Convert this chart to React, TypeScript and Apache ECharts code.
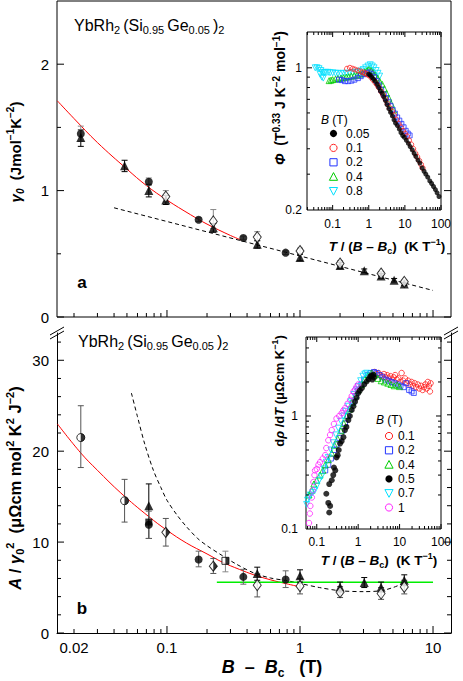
import React, { useEffect, useRef } from 'react';
import * as echarts from 'echarts';

const FONT = '"Liberation Sans", Arial, Helvetica, sans-serif';

// ---------- Panel a : gamma0 vs B - Bc   [x, y, errLow, errHigh]
const gammaTriangles = [
  [0.0225, 1.42, 1.35, 1.48],
  [0.048, 1.197, 1.15, 1.24],
  [0.073, 1.0, 0.95, 1.05],
  [0.098, 0.925, 0.89, 0.96],
  [0.223, 0.706, 0.67, 0.74],
  [0.477, 0.575, 0.545, 0.605],
  [1.0, 0.47, 0.445, 0.495],
  [2.0, 0.408, 0.385, 0.43],
  [3.04, 0.365, 0.35, 0.38],
  [4.07, 0.325, 0.305, 0.345],
  [5.1, 0.291, 0.277, 0.305],
  [6.08, 0.262, 0.25, 0.275],
];
const gammaCircles = [
  [0.0225, 1.45, 1.39, 1.51],
  [0.073, 1.07, 1.04, 1.1],
  [0.173, 0.769, 0.755, 0.785],
  [0.375, 0.625, 0.61, 0.64],
  [0.78, 0.509, 0.495, 0.523],
];
const gammaDiamonds = [
  [0.098, 0.953, 0.91, 1.0],
  [0.223, 0.756, 0.7, 0.85],
  [0.477, 0.632, 0.6, 0.675],
  [1.0, 0.522, 0.5, 0.545],
  [2.0, 0.423, 0.4, 0.445],
  [4.07, 0.344, 0.327, 0.36],
  [6.08, 0.278, 0.265, 0.292],
];
const gammaFit = [
  [0.015, 1.71], [0.02, 1.57], [0.03, 1.38], [0.05, 1.17], [0.07, 1.04],
  [0.1, 0.925], [0.15, 0.81], [0.2, 0.735], [0.3, 0.645], [0.36, 0.61],
];
const gammaDashed = [[0.04, 0.864], [10, 0.21]];

// ---------- Panel b : A / gamma0^2 vs B - Bc   [x, y, errLow, errHigh]
const ratioHalfCircles = [
  [0.0225, 21.5, 18.2, 25.0],
  [0.048, 14.55, 12.2, 16.9],
];
const ratioTriangles = [
  [0.073, 14.0, 10.4, 16.4],
  [0.477, 6.55, 5.8, 7.24],
  [1.0, 6.29, 5.6, 6.95],
  [2.0, 5.05, 4.5, 5.6],
  [3.04, 5.55, 5.0, 6.1],
  [4.07, 5.04, 4.5, 5.6],
  [6.08, 5.8, 5.2, 6.4],
];
const ratioSquares = [[0.073, 12.2, 10.4, 13.6]];
const ratioCircles = [
  [0.073, 11.9, 10.4, 13.4],
  [0.173, 8.09, 7.28, 9.0],
  [0.375, 6.17, 5.37, 7.0],
  [0.78, 5.88, 5.0, 6.84],
];
const ratioHalfDiamonds = [
  [0.098, 11.07, 9.56, 12.6],
  [0.223, 7.35, 6.55, 8.2],
];
const ratioHalfSquares = [[0.275, 7.94, 6.73, 9.0]];
const ratioDiamonds = [
  [0.477, 5.26, 3.97, 6.5],
  [1.0, 5.15, 4.3, 6.0],
  [2.0, 4.49, 3.9, 5.1],
  [4.07, 4.34, 3.7, 5.0],
  [6.08, 5.07, 4.3, 5.8],
];
const ratioFit = [
  [0.015, 23.0], [0.0225, 19.8], [0.03, 17.9], [0.045, 15.4], [0.073, 12.8],
  [0.1, 11.3], [0.14, 9.9], [0.2, 8.7], [0.26, 7.8], [0.35, 7.0],
  [0.45, 6.4], [0.6, 5.85], [0.8, 5.4], [0.95, 5.15],
];
const ratioDashed = [
  [0.054, 26.4], [0.06, 23.8], [0.068, 20.8], [0.079, 17.9], [0.09, 16.0],
  [0.1, 14.6], [0.12, 12.9], [0.14, 11.7], [0.17, 10.4], [0.2, 9.6],
  [0.255, 8.6], [0.33, 7.6], [0.45, 6.6], [0.6, 6.05], [0.8, 5.75],
  [1.0, 5.45], [1.4, 5.0], [2.0, 4.65], [3.0, 4.55], [4.07, 4.65],
  [5.0, 5.0], [6.08, 5.5],
];
const ratioFlat = [[0.237, 5.57], [10, 5.57]];

// ---------- Inset a : Phi vs T/(B-Bc)
const phi005 = [
  [1.0, 0.93], [1.1, 0.92], [1.2, 0.9], [1.35, 0.88], [1.5, 0.86], [1.7, 0.83],
  [1.9, 0.8], [2.1, 0.77], [2.35, 0.75], [2.6, 0.72], [2.9, 0.69], [3.2, 0.66],
  [3.6, 0.63], [4.0, 0.605], [4.5, 0.58], [5.0, 0.555], [5.5, 0.535], [6.2, 0.52],
  [7.0, 0.5], [7.8, 0.48], [8.7, 0.465], [9.7, 0.455], [11, 0.44], [12.5, 0.425],
  [14, 0.41], [16, 0.395], [18, 0.38], [20, 0.367], [23, 0.352], [26, 0.34],
  [30, 0.322], [34, 0.31], [38, 0.3], [43, 0.29], [49, 0.278], [55, 0.27],
  [62, 0.261], [70, 0.252], [78, 0.243], [88, 0.233],
];
const phi01 = [
  [0.25, 0.99], [0.3, 1.0], [0.36, 0.99], [0.42, 0.98], [0.5, 0.97], [0.6, 0.96],
  [0.7, 0.95], [0.8, 0.94], [0.9, 0.93], [1.0, 0.92], [1.15, 0.9], [1.3, 0.875],
  [1.5, 0.85], [1.7, 0.825], [1.9, 0.8], [2.2, 0.765], [2.5, 0.735], [2.9, 0.7],
  [3.3, 0.665], [3.8, 0.635], [4.4, 0.61], [5.0, 0.585], [5.8, 0.555], [6.7, 0.53],
  [7.7, 0.51], [8.8, 0.49], [10, 0.475], [11.5, 0.46], [13, 0.44], [15, 0.42],
  [17, 0.4], [19.5, 0.38], [22, 0.365], [25, 0.35], [28, 0.335], [31, 0.322],
];
const phi02 = [
  [0.15, 0.875], [0.18, 0.87], [0.22, 0.86], [0.27, 0.86], [0.33, 0.865], [0.4, 0.875],
  [0.5, 0.89], [0.6, 0.91], [0.75, 0.93], [0.9, 0.94], [1.05, 0.95], [1.2, 0.93],
  [1.4, 0.9], [1.65, 0.86], [1.9, 0.82], [2.2, 0.78], [2.6, 0.74], [3.0, 0.71],
  [3.5, 0.68], [4.0, 0.65], [4.6, 0.62], [5.3, 0.595], [6.1, 0.57], [7.0, 0.55],
  [8.0, 0.53], [9.2, 0.51], [10.5, 0.49], [12, 0.475], [13.5, 0.465],
];
const phi04 = [
  [0.08, 0.865], [0.09, 0.87], [0.1, 0.875], [0.12, 0.88], [0.14, 0.885], [0.17, 0.89],
  [0.2, 0.895], [0.24, 0.9], [0.28, 0.905], [0.33, 0.91], [0.4, 0.915], [0.48, 0.92],
  [0.57, 0.93], [0.67, 0.94], [0.78, 0.955], [0.9, 0.97], [1.0, 0.98], [1.15, 0.97],
  [1.3, 0.95], [1.5, 0.92], [1.75, 0.89], [2.0, 0.86], [2.35, 0.83], [2.7, 0.79],
  [3.1, 0.75], [3.6, 0.71], [4.2, 0.665], [4.9, 0.62],
];
const phi08 = [
  [0.033, 1.0], [0.037, 1.0], [0.042, 0.99], [0.045, 0.93], [0.047, 0.97], [0.05, 0.9],
  [0.052, 0.95], [0.055, 0.89], [0.058, 0.945], [0.065, 0.95], [0.075, 0.95], [0.085, 0.945],
  [0.1, 0.945], [0.12, 0.94], [0.14, 0.94], [0.17, 0.935], [0.2, 0.94], [0.24, 0.94],
  [0.29, 0.94], [0.35, 0.945], [0.42, 0.95], [0.5, 0.955], [0.6, 0.965], [0.7, 0.98],
  [0.82, 1.0], [0.95, 1.02], [1.1, 1.035], [1.25, 1.02], [1.4, 1.0], [1.6, 0.97],
  [1.8, 0.94], [2.0, 0.91],
];

// ---------- Inset b : d rho / dT vs T/(B-Bc)
const rho01 = [
  [2.5, 2.45], [2.8, 2.35], [3.1, 2.4], [3.4, 2.3], [3.8, 2.25], [4.2, 2.35],
  [4.6, 2.2], [5.0, 2.3], [5.5, 2.15], [6.0, 2.25], [6.6, 2.1], [7.2, 2.2],
  [7.8, 2.3], [8.5, 2.1], [9.3, 2.15], [10.2, 2.0], [11.2, 2.4], [12.3, 2.05],
  [13.5, 2.15], [14.8, 1.95], [16.2, 2.05], [17.7, 1.9], [19.4, 2.0], [21, 1.85],
  [23, 1.95], [25, 1.8], [27.5, 1.9], [30, 1.75], [33, 1.85], [36, 1.7],
  [39, 1.8], [42, 1.9], [45, 1.75], [48, 2.0], [51, 1.85], [54, 1.65], [56, 1.95],
];
const rho02 = [
  [0.16, 0.33], [0.19, 0.37], [0.22, 0.42], [0.26, 0.5], [0.3, 0.56], [0.35, 0.64],
  [0.41, 0.74], [0.48, 0.86], [0.56, 1.0], [0.65, 1.15], [0.76, 1.32], [0.88, 1.5],
  [1.0, 1.68], [1.2, 1.9], [1.4, 2.1], [1.7, 2.3], [2.0, 2.4], [2.4, 2.45],
  [2.8, 2.4], [3.3, 2.3], [3.9, 2.2], [4.6, 2.1], [5.4, 2.05], [6.4, 2.0],
  [7.5, 1.95], [9, 1.9], [10.5, 1.85], [12.5, 1.8], [14.5, 1.95], [17, 1.7],
  [19.5, 1.65], [22, 1.6],
];
const rho04 = [
  [0.065, 0.2], [0.075, 0.22], [0.085, 0.25], [0.1, 0.27], [0.12, 0.3], [0.14, 0.33],
  [0.16, 0.37], [0.19, 0.41], [0.23, 0.47], [0.27, 0.55], [0.32, 0.63], [0.38, 0.74],
  [0.45, 0.86], [0.53, 1.0], [0.62, 1.15], [0.72, 1.32], [0.85, 1.5], [1.0, 1.7],
  [1.2, 1.9], [1.45, 2.12], [1.75, 2.3], [2.1, 2.4], [2.5, 2.3], [3.0, 2.15],
  [3.6, 2.05], [4.3, 2.0], [5.2, 1.95], [6.2, 1.9], [7.4, 1.85], [8.8, 1.88], [10, 1.82],
];
const rho05 = [
  [0.17, 0.205], [0.19, 0.17], [0.2, 0.14], [0.21, 0.16], [0.2, 0.25], [0.23, 0.27],
  [0.25, 0.3], [0.26, 0.35], [0.28, 0.33], [0.3, 0.43], [0.32, 0.45], [0.34, 0.5],
  [0.365, 0.57], [0.4, 0.6], [0.44, 0.65], [0.48, 0.75], [0.52, 0.8], [0.58, 0.92],
  [0.63, 1.0], [0.7, 1.13], [0.77, 1.22], [0.84, 1.34], [0.92, 1.45], [1.0, 1.59],
  [1.1, 1.68], [1.22, 1.76], [1.4, 1.9], [1.6, 2.02], [1.8, 2.12], [1.94, 2.23],
  [2.1, 2.28], [2.33, 2.31], [2.2, 2.1], [2.4, 2.2],
];
const rho07 = [
  [0.057, 0.165], [0.06, 0.18], [0.065, 0.19], [0.07, 0.2], [0.08, 0.21], [0.09, 0.22],
  [0.1, 0.24], [0.115, 0.27], [0.13, 0.29], [0.15, 0.34], [0.17, 0.39], [0.19, 0.43],
  [0.22, 0.5], [0.25, 0.58], [0.29, 0.68], [0.33, 0.78], [0.38, 0.9], [0.44, 1.0],
  [0.5, 1.1], [0.58, 1.22], [0.68, 1.34], [0.8, 1.55], [0.9, 1.7], [1.0, 1.82],
  [1.15, 2.05], [1.3, 2.25], [1.45, 2.35], [1.6, 2.39],
];
const rho1 = [
  [0.065, 0.113], [0.068, 0.137], [0.07, 0.16], [0.076, 0.19], [0.08, 0.22], [0.083, 0.26],
  [0.088, 0.3], [0.091, 0.33], [0.1, 0.34], [0.11, 0.37], [0.12, 0.39], [0.14, 0.42],
  [0.16, 0.45], [0.17, 0.52], [0.19, 0.61], [0.21, 0.68], [0.23, 0.75], [0.26, 0.85],
  [0.3, 0.95], [0.35, 1.0], [0.4, 1.06], [0.44, 1.12], [0.48, 1.17], [0.55, 1.28],
  [0.64, 1.39], [0.7, 1.5], [0.77, 1.64], [0.85, 1.72], [0.92, 1.82], [1.0, 1.9],
];

// ---------- legends (label, marker, colour)
const phiLegend: [string, string, string][] = [
  ['0.05', 'dot', '#000'],
  ['0.1', 'circle', '#ff2020'],
  ['0.2', 'square', '#2233ff'],
  ['0.4', 'up', '#00cc00'],
  ['0.8', 'down', '#00e0ff'],
];
const rhoLegend: [string, string, string][] = [
  ['0.1', 'circle', '#ff2020'],
  ['0.2', 'square', '#2233ff'],
  ['0.4', 'up', '#00cc00'],
  ['0.5', 'dot', '#000'],
  ['0.7', 'down', '#00e0ff'],
  ['1', 'circle', '#ff20ff'],
];

// ---------- tick labels
const mainXLabels: [number, string][] = [[0.02, '0.02'], [0.1, '0.1'], [1, '1'], [10, '10']];
const gammaYLabels: [number, string][] = [[0, '0'], [1, '1'], [2, '2']];
const ratioYLabels: [number, string][] = [[0, '0'], [10, '10'], [20, '20'], [30, '30']];
const insetXLabels: [number, string][] = [[0.1, '0.1'], [1, '1'], [10, '10'], [100, '100']];
const phiYLabels: [number, string][] = [[0.2, '0.2'], [1, '1']];
const rhoYLabels: [number, string][] = [[0.1, '0.1'], [1, '1']];

// axis ranges
const MAIN_X = [0.0149, 13.65];
const PHI_X = [0.0195, 100];
const RHO_X = [0.055, 100];

function logTicks(min: number, max: number, majorLen: number, minorLen: number) {
  const out: number[][] = [];
  for (let e = Math.floor(Math.log10(min)); e <= Math.ceil(Math.log10(max)); e++) {
    for (let m = 1; m <= 9; m++) {
      const v = parseFloat((m * Math.pow(10, e)).toPrecision(6));
      if (v > min * 1.001 && v < max * 0.999) out.push([v, m === 1 ? majorLen : minorLen]);
    }
  }
  return out;
}
function linTicks(values: number[], majors: number[], majorLen: number, minorLen: number) {
  return values.map((v) => [v, majors.indexOf(v) >= 0 ? majorLen : minorLen]);
}

const ln = (x1: number, y1: number, x2: number, y2: number, color = '#000', w = 1, z = 20) => ({
  type: 'line',
  z,
  shape: { x1, y1, x2, y2 },
  style: { stroke: color, lineWidth: w },
});

function tickSeries(xi: number, yi: number, dir: 'x' | 'y', ref: number, items: number[][], sides: string[]) {
  return {
    type: 'custom',
    xAxisIndex: xi,
    yAxisIndex: yi,
    silent: true,
    z: 10,
    data: items.map(([v, l]) => (dir === 'x' ? [v, ref, l] : [ref, v, l])),
    encode: { x: 0, y: 1 },
    renderItem: (params: any, api: any) => {
      const cs = params.coordSys;
      const p = api.coord([api.value(0), api.value(1)]);
      const L = api.value(2);
      const ch: any[] = [];
      sides.forEach((s) => {
        if (s === 'bottom') ch.push(ln(p[0], cs.y + cs.height, p[0], cs.y + cs.height - L));
        if (s === 'top') ch.push(ln(p[0], cs.y, p[0], cs.y + L));
        if (s === 'left') ch.push(ln(cs.x, p[1], cs.x + L, p[1]));
        if (s === 'right') ch.push(ln(cs.x + cs.width, p[1], cs.x + cs.width - L, p[1]));
      });
      return { type: 'group', children: ch };
    },
  };
}

function labelSeries(xi: number, yi: number, dir: 'x' | 'y', ref: number, labels: [number, string][], offset: number, fontSize: number) {
  return {
    type: 'custom',
    xAxisIndex: xi,
    yAxisIndex: yi,
    silent: true,
    z: 10,
    data: labels.map(([v]) => (dir === 'x' ? [v, ref] : [ref, v])),
    encode: { x: 0, y: 1 },
    renderItem: (params: any, api: any) => {
      const cs = params.coordSys;
      const p = api.coord([api.value(0), api.value(1)]);
      const text = labels[params.dataIndex][1];
      const x = dir === 'x' ? p[0] : cs.x - offset;
      const y = dir === 'x' ? cs.y + cs.height + offset : p[1];
      return {
        type: 'text',
        x,
        y,
        style: {
          text,
          fill: '#000',
          fontSize,
          fontFamily: FONT,
          align: dir === 'x' ? 'center' : 'right',
          textAlign: dir === 'x' ? 'center' : 'right',
          verticalAlign: 'middle',
          textVerticalAlign: 'middle',
        },
      };
    },
  };
}

function errorSeries(data: number[][], xi: number, yi: number, color: string) {
  return {
    type: 'custom',
    xAxisIndex: xi,
    yAxisIndex: yi,
    silent: true,
    z: 4,
    data: data.map((d) => [d[0], d[2], d[3]]),
    encode: { x: 0, y: [1, 2] },
    renderItem: (params: any, api: any) => {
      const lo = api.coord([api.value(0), api.value(1)]);
      const hi = api.coord([api.value(0), api.value(2)]);
      const w = 3;
      return {
        type: 'group',
        children: [
          ln(lo[0], lo[1], hi[0], hi[1], color),
          ln(lo[0] - w, lo[1], lo[0] + w, lo[1], color),
          ln(hi[0] - w, hi[1], hi[0] + w, hi[1], color),
        ],
      };
    },
  };
}

function scatter(name: string, data: number[][], xi: number, yi: number, symbol: string, size: any, itemStyle: any, extra: any = {}) {
  return {
    type: 'scatter',
    name,
    xAxisIndex: xi,
    yAxisIndex: yi,
    data: data.map((d) => [d[0], d[1]]),
    symbol,
    symbolSize: size,
    itemStyle,
    silent: true,
    z: 5,
    ...extra,
  };
}

function lineSeries(data: number[][], xi: number, yi: number, color: string, width: number, type: any, smooth: any) {
  return {
    type: 'line',
    xAxisIndex: xi,
    yAxisIndex: yi,
    data,
    showSymbol: false,
    symbol: 'none',
    smooth,
    silent: true,
    z: 3,
    lineStyle: { color, width, type },
  };
}

function rich(F: number, bold: boolean) {
  const H = Math.round(F * 1.3);
  const f = Math.round(F * 0.68);
  const base = { fontFamily: FONT, fontWeight: bold ? 'bold' : 'normal', fill: '#000' };
  return {
    n: { ...base, fontSize: F, lineHeight: H },
    i: { ...base, fontSize: F, lineHeight: H, fontStyle: 'italic' },
    sb: { ...base, fontSize: f, lineHeight: f, verticalAlign: 'bottom' },
    sp: { ...base, fontSize: f, lineHeight: f, verticalAlign: 'top' },
    isb: { ...base, fontSize: f, lineHeight: f, verticalAlign: 'bottom', fontStyle: 'italic' },
  };
}

function richText(x: number, y: number, text: string, F: number, bold: boolean, rotate = 0, align = 'center') {
  return {
    type: 'text',
    x,
    y,
    rotation: rotate,
    silent: true,
    z: 20,
    style: {
      text,
      rich: rich(F, bold),
      fontFamily: FONT,
      fontSize: F,
      fill: '#000',
      align,
      textAlign: align,
      verticalAlign: 'middle',
      textVerticalAlign: 'middle',
    },
  };
}

function legendMarker(kind: string, color: string, cx: number, cy: number) {
  const s = 3.6;
  const openStyle = { fill: 'none', stroke: color, lineWidth: 1 };
  if (kind === 'dot') return { type: 'circle', z: 20, shape: { cx, cy, r: s }, style: { fill: color } };
  if (kind === 'circle') return { type: 'circle', z: 20, shape: { cx, cy, r: s }, style: openStyle };
  if (kind === 'square') return { type: 'rect', z: 20, shape: { x: cx - s, y: cy - s, width: 2 * s, height: 2 * s }, style: openStyle };
  if (kind === 'up')
    return { type: 'polygon', z: 20, shape: { points: [[cx, cy - s - 0.5], [cx + s + 0.5, cy + s], [cx - s - 0.5, cy + s]] }, style: openStyle };
  return { type: 'polygon', z: 20, shape: { points: [[cx - s - 0.5, cy - s], [cx + s + 0.5, cy - s], [cx, cy + s + 0.5]] }, style: openStyle };
}

function legendGraphic(entries: [string, string, string][], symX: number, textX: number, y0: number, dy: number) {
  const children: any[] = [];
  entries.forEach(([label, kind, color], i) => {
    const cy = y0 + i * dy;
    children.push(legendMarker(kind, color, symX, cy));
    children.push({
      type: 'text',
      z: 20,
      x: textX,
      y: cy,
      style: { text: label, fill: '#000', fontSize: 12, fontFamily: FONT, align: 'left', textAlign: 'left', verticalAlign: 'middle', textVerticalAlign: 'middle' },
    });
  });
  return { type: 'group', silent: true, z: 20, children };
}

const open = (c: string) => ({ color: 'rgba(255,255,255,0)', borderColor: c, borderWidth: 1 });
const DOWN = 'path://M0,0L10,0L5,9Z';
const HALF_CIRCLE = 'path://M0,0A10,10 0 0 1 0,20Z';
const HALF_DIAMOND = 'path://M0,0L10,10L0,20Z';
const HALF_SQUARE = 'path://M0,0L10,0L10,20L0,20Z';

function buildOption(): any {
  const hidden = { axisLine: { show: false }, axisTick: { show: false }, axisLabel: { show: false }, splitLine: { show: false } };
  const blackLine = { show: true, onZero: false, lineStyle: { color: '#000', width: 1 } };

  const series: any[] = [
    // ---- panel a
    lineSeries(gammaFit, 0, 0, '#ff0000', 1, 'solid', 0.4),
    lineSeries(gammaDashed, 0, 0, '#000', 1, [4, 3], false),
    errorSeries(gammaTriangles, 0, 0, '#000'),
    errorSeries(gammaCircles, 0, 0, '#888'),
    errorSeries(gammaDiamonds, 0, 0, '#888'),
    scatter('m-tri', gammaTriangles, 0, 0, 'triangle', 9, { color: '#000' }),
    scatter('m-cir', gammaCircles, 0, 0, 'circle', 8, { color: '#000' }),
    scatter('m-dia', gammaDiamonds, 0, 0, 'diamond', [8, 11], { color: '#fff', borderColor: '#000', borderWidth: 1 }),
    // ---- panel b
    lineSeries(ratioFit, 1, 1, '#ff0000', 1, 'solid', 0.4),
    lineSeries(ratioDashed, 1, 1, '#000', 1, [4, 3], 0.3),
    lineSeries(ratioFlat, 1, 1, '#00ee00', 1.5, 'solid', false),
    errorSeries(ratioHalfCircles, 1, 1, '#555'),
    errorSeries(ratioTriangles, 1, 1, '#000'),
    errorSeries(ratioCircles, 1, 1, '#666'),
    errorSeries(ratioHalfDiamonds, 1, 1, '#555'),
    errorSeries(ratioHalfSquares, 1, 1, '#888'),
    errorSeries(ratioDiamonds, 1, 1, '#555'),
    scatter('m-hc', ratioHalfCircles, 1, 1, 'circle', 8, { color: '#fff', borderColor: '#000', borderWidth: 1 }),
    scatter('m-hc2', ratioHalfCircles, 1, 1, HALF_CIRCLE, [4, 8], { color: '#000' }, { symbolOffset: [2, 0], z: 6 }),
    scatter('m-hd', ratioHalfDiamonds, 1, 1, 'diamond', [8, 10], { color: '#fff', borderColor: '#000', borderWidth: 1 }),
    scatter('m-hd2', ratioHalfDiamonds, 1, 1, HALF_DIAMOND, [4, 10], { color: '#000' }, { symbolOffset: [2, 0], z: 6 }),
    scatter('m-hs', ratioHalfSquares, 1, 1, 'rect', 7, { color: '#fff', borderColor: '#000', borderWidth: 1 }),
    scatter('m-hs2', ratioHalfSquares, 1, 1, HALF_SQUARE, [3.5, 7], { color: '#000' }, { symbolOffset: [1.75, 0], z: 6 }),
    scatter('m-sq', ratioSquares, 1, 1, 'rect', 7, { color: '#000' }),
    scatter('m-c', ratioCircles, 1, 1, 'circle', 8, { color: '#000' }),
    scatter('m-t', ratioTriangles, 1, 1, 'triangle', 9, { color: '#000' }),
    scatter('m-d', ratioDiamonds, 1, 1, 'diamond', [8, 11], { color: '#fff', borderColor: '#000', borderWidth: 1 }),
    // ---- inset a
    scatter('B = 0.8 T (a)', phi08, 2, 3, DOWN, 6, open('#00e0ff'), { z: 7 }),
    scatter('B = 0.4 T (a)', phi04, 2, 3, 'triangle', 6, open('#00cc00'), { z: 7 }),
    scatter('B = 0.2 T (a)', phi02, 2, 3, 'rect', 5, open('#2233ff'), { z: 7 }),
    scatter('B = 0.1 T (a)', phi01, 2, 3, 'circle', 5, open('#ff2020'), { z: 7 }),
    scatter('B = 0.05 T (a)', phi005, 2, 3, 'circle', 5, { color: '#000' }, { z: 8 }),
    // ---- inset b
    scatter('B = 0.1 T (b)', rho01, 3, 4, 'circle', 5.5, open('#ff2020'), { z: 7 }),
    scatter('B = 0.2 T (b)', rho02, 3, 4, 'rect', 5, open('#2233ff'), { z: 7 }),
    scatter('B = 0.4 T (b)', rho04, 3, 4, 'triangle', 6, open('#00cc00'), { z: 7 }),
    scatter('B = 0.7 T (b)', rho07, 3, 4, DOWN, 6, open('#00e0ff'), { z: 7 }),
    scatter('B = 1 T (b)', rho1, 3, 4, 'circle', 5.5, open('#ff20ff'), { z: 7 }),
    scatter('B = 0.5 T (b)', rho05, 3, 4, 'circle', 6, { color: '#000' }, { z: 8 }),
    // ---- ticks & labels
    tickSeries(0, 0, 'x', 1, logTicks(MAIN_X[0], MAIN_X[1], 7, 4), ['bottom']),
    tickSeries(0, 0, 'y', 1, linTicks([0, 0.5, 1, 1.5, 2], [0, 1, 2], 7, 4), ['left', 'right']),
    labelSeries(0, 0, 'y', 1, gammaYLabels, 8, 15),
    tickSeries(1, 1, 'x', 1, logTicks(MAIN_X[0], MAIN_X[1], 7, 4), ['bottom']),
    tickSeries(1, 1, 'y', 1, linTicks([0, 2, 4, 6, 8, 10, 12, 14, 16, 18, 20, 22, 24, 26, 28, 30, 32], [0, 10, 20, 30], 7, 4), ['left', 'right']),
    labelSeries(1, 1, 'x', 1, mainXLabels, 14, 15),
    labelSeries(1, 1, 'y', 1, ratioYLabels, 8, 15),
    tickSeries(2, 3, 'x', 1, logTicks(PHI_X[0], PHI_X[1] * 1.01, 5, 3), ['bottom', 'top']),
    tickSeries(2, 3, 'y', 1, linTicks([0.3, 0.4, 0.5, 0.6, 0.7, 0.8, 0.9, 1], [1], 5, 3), ['left', 'right']),
    labelSeries(2, 3, 'x', 1, insetXLabels, 14, 12),
    labelSeries(2, 3, 'y', 1, phiYLabels, 5, 12),
    tickSeries(3, 4, 'x', 1, logTicks(RHO_X[0], RHO_X[1] * 1.01, 5, 3), ['bottom', 'top']),
    tickSeries(3, 4, 'y', 1, linTicks([0.2, 0.3, 0.4, 0.5, 0.6, 0.7, 0.8, 0.9, 1, 2, 3, 4], [1], 5, 3), ['left', 'right']),
    labelSeries(3, 4, 'x', 1, insetXLabels, 13, 12),
    labelSeries(3, 4, 'y', 1, rhoYLabels, 8, 12),
  ];

  return {
    animation: false,
    backgroundColor: '#fff',
    textStyle: { fontFamily: FONT },
    grid: [
      { left: 57, top: 1, width: 394, height: 316, show: true, borderColor: '#000', borderWidth: 1, backgroundColor: 'rgba(0,0,0,0)' },
      { left: 57, top: 333, width: 394, height: 300, show: false },
      { left: 307, top: 32, width: 134, height: 178, show: true, borderColor: '#000', borderWidth: 1, backgroundColor: '#fff', z: 3 },
      { left: 306, top: 337, width: 135, height: 192, show: true, borderColor: '#000', borderWidth: 1, backgroundColor: '#fff', z: 3 },
    ],
    xAxis: [
      { gridIndex: 0, type: 'log', logBase: 10, min: MAIN_X[0], max: MAIN_X[1], ...hidden },
      { gridIndex: 1, type: 'log', logBase: 10, min: MAIN_X[0], max: MAIN_X[1], ...hidden, axisLine: blackLine },
      { gridIndex: 2, type: 'log', logBase: 10, min: PHI_X[0], max: PHI_X[1], ...hidden },
      { gridIndex: 3, type: 'log', logBase: 10, min: RHO_X[0], max: RHO_X[1], ...hidden },
    ],
    yAxis: [
      { gridIndex: 0, type: 'value', min: 0, max: 2.5, ...hidden },
      { gridIndex: 1, type: 'value', min: 0, max: 33, position: 'left', ...hidden, axisLine: blackLine },
      { gridIndex: 1, type: 'value', min: 0, max: 33, position: 'right', ...hidden, axisLine: blackLine },
      { gridIndex: 2, type: 'log', logBase: 10, min: 0.2, max: 1.5, ...hidden },
      { gridIndex: 3, type: 'log', logBase: 10, min: 0.1, max: 5, ...hidden },
    ],
    graphic: [
      richText(74, 25, '{n|YbRh}{sb|2 }{n|(Si}{sb|0.95 }{n|Ge}{sb|0.05 }{n|)}{sb|2}', 16, false, 0, 'left'),
      richText(78, 341, '{n|YbRh}{sb|2 }{n|(Si}{sb|0.95 }{n|Ge}{sb|0.05 }{n|)}{sb|2}', 16, false, 0, 'left'),
      richText(82, 282, '{n|a}', 17, true),
      richText(82, 608, '{n|b}', 17, true),
      richText(272, 667, '{i|B}{n|  –  }{i|B}{sb|c}{n|   (T)}', 18, true),
      richText(15, 152, '{i|γ}{isb|0}{n|  (Jmol}{sp|−1}{n|K}{sp|−2}{n|)}', 15, true, Math.PI / 2),
      richText(15, 488, '{i|A}{n| / }{i|γ}{sb|0}{sp|2}{n|  (μΩcm mol}{sp|2}{n| K}{sp|2}{n| J}{sp|−2}{n|)}', 16.5, true, Math.PI / 2),
      richText(387, 246, '{i|T}{n| / (}{i|B}{n| – }{i|B}{sb|c}{n|)  (K T}{sp|−1}{n|)}', 13.5, true),
      richText(379, 560, '{i|T}{n| / (}{i|B}{n| – }{i|B}{sb|c}{n|)  (K T}{sp|−1}{n|)}', 13.5, true),
      richText(280, 98, '{i|Φ}{n|  (T}{sp|0.33}{n| J K}{sp|−2}{n| mol}{sp|−1}{n|)}', 14, true, Math.PI / 2),
      richText(279, 391, '{n|d}{i|ρ}{n| /d}{i|T}{n| (μΩcm K}{sp|−1}{n|)}', 13, true, Math.PI / 2),
      richText(321, 120, '{i|B}{n| (T)}', 12, false, 0, 'left'),
      richText(376, 420, '{i|B}{n| (T)}', 12, false, 0, 'left'),
      legendGraphic(phiLegend, 333.5, 346, 133.5, 14.4),
      legendGraphic(rhoLegend, 389, 398, 436, 14.3),
      { type: 'group', silent: true, z: 20, children: [
        ln(50, 335, 64, 327), ln(50, 339, 64, 331),
        ln(444, 335, 458, 327), ln(444, 339, 458, 331),
      ] },
    ],
    series,
  };
}

export default function App() {
  const ref = useRef<HTMLDivElement>(null);
  useEffect(() => {
    const chart = echarts.init(ref.current as HTMLDivElement, null, { renderer: 'svg' });
    chart.setOption(buildOption());
    return () => chart.dispose();
  }, []);
  return (
    <div
      ref={ref}
      style={{ position: 'absolute', left: 0, top: 0, width: 463, height: 681, background: '#fff' }}
    />
  );
}
